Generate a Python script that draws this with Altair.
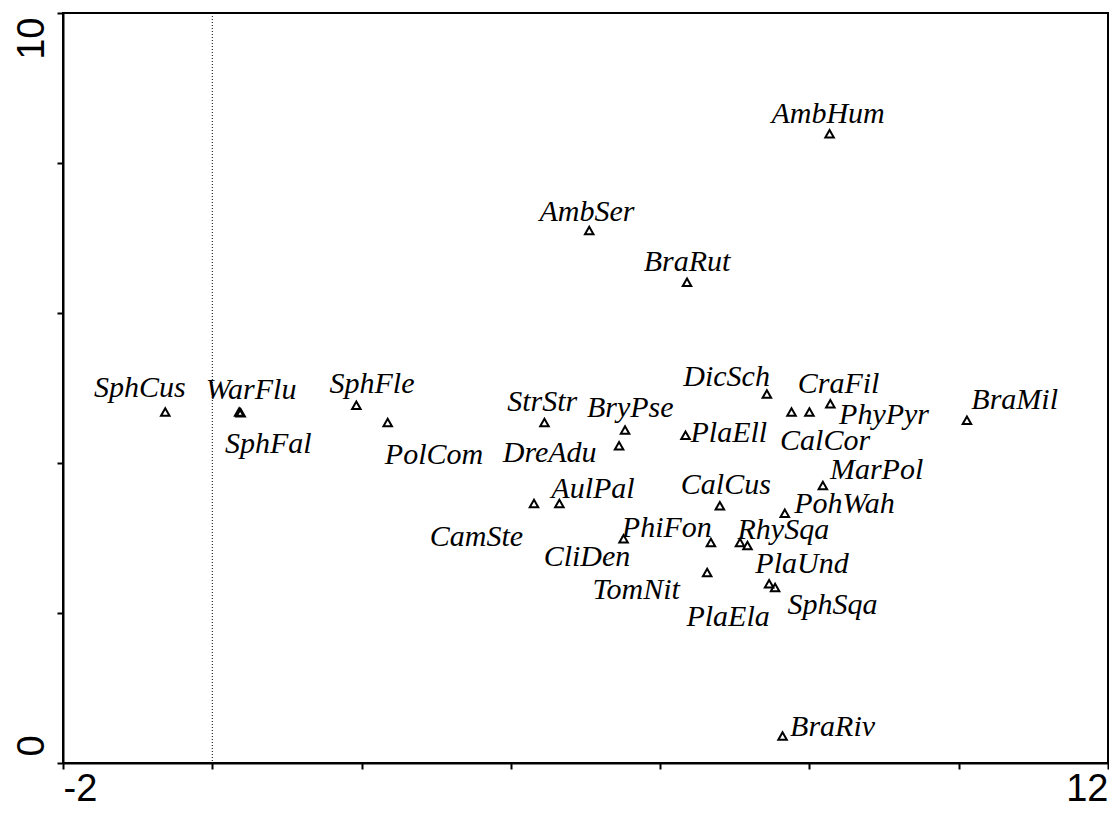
import altair as alt
import pandas as pd

species = ["SphCus", "WarFlu", "SphFal", "SphFle", "PolCom", "StrStr", "BryPse",
           "DreAdu", "CamSte", "AulPal", "PhiFon", "CliDen", "RhySqa", "PlaUnd",
           "TomNit", "PlaEla", "SphSqa", "CalCus", "PohWah", "MarPol", "PlaEll",
           "DicSch", "CalCor", "CraFil", "PhyPyr", "BraMil", "AmbHum", "AmbSer",
           "BraRut", "BraRiv"]

# species scores (axis 1, axis 2)
axis1 = [-0.63, 0.36, 0.38, 1.93, 2.35, 4.45, 5.53,
         5.45, 4.31, 4.65, 5.51, 6.68, 7.07, 7.17,
         6.63, 7.46, 7.54, 6.80, 7.67, 8.18, 6.34,
         7.43, 7.76, 8.00, 8.28, 10.11, 8.27, 5.05,
         6.36, 7.64]
axis2 = [4.68, 4.68, 4.67, 4.77, 4.54, 4.54, 4.44,
         4.23, 3.46, 3.46, 2.99, 2.94, 2.94, 2.90,
         2.54, 2.39, 2.34, 3.43, 3.33, 3.70, 4.37,
         4.92, 4.68, 4.68, 4.79, 4.57, 8.39, 7.10,
         6.41, 0.36]

# label anchor positions (centre, baseline) in axis units
label_x = [-0.97, 0.52, 0.75, 2.14, 2.97, 4.42, 5.60,
           4.52, 3.54, 5.10, 6.09, 5.02, 7.65, 7.90,
           5.68, 6.91, 8.31, 6.88, 8.47, 8.90, 6.92,
           6.89, 8.21, 8.39, 9.00, 10.75, 8.25, 5.02,
           6.36, 8.31]
label_y = [4.88, 4.85, 4.13, 4.93, 3.99, 4.70, 4.61,
           4.01, 2.90, 3.53, 3.01, 2.63, 2.99, 2.54,
           2.19, 1.83, 1.99, 3.59, 3.34, 3.79, 4.28,
           5.03, 4.17, 4.94, 4.52, 4.72, 8.54, 7.23,
           6.56, 0.36]

x_ticks = [-2, 0, 2, 4, 6, 8, 10, 12]
y_ticks = [0, 2, 4, 6, 8, 10]

df = pd.DataFrame({"species": species, "ax1": axis1, "ax2": axis2,
                   "lx": label_x, "ly": label_y})
zero_df = pd.DataFrame({"x0": [0]})

x_scale = alt.Scale(domain=[-2, 12], nice=False, zero=False)
y_scale = alt.Scale(domain=[0, 10], nice=False, zero=False)

x_axis = alt.Axis(
    values=x_ticks, title=None, grid=False,
    labelExpr="datum.value == -2 ? '-2' : (datum.value == 12 ? '12' : '')",
    labelFlush=True, labelOverlap=False, labelBaseline="alphabetic",
    labelFont="Liberation Sans", labelFontSize=38, labelColor="black",
    labelPadding=31, tickSize=6, tickWidth=2, tickColor="black",
    domainColor="black", domainWidth=2,
)
y_axis = alt.Axis(
    values=y_ticks, title=None, grid=False,
    labelExpr="datum.value == 0 ? '0' : (datum.value == 10 ? '10' : '')",
    labelAngle=270,
    labelAlign={"condition": {"test": "datum.value == 0", "value": "left"}, "value": "right"},
    labelOffset={"condition": {"test": "datum.value == 0", "value": -7}, "value": 4},
    labelBaseline="alphabetic", labelOverlap=False, labelFlush=False,
    labelFont="Liberation Sans", labelFontSize=38, labelColor="black",
    labelPadding=14, tickSize=6, tickWidth=2, tickColor="black",
    domainColor="black", domainWidth=2,
)

rule = alt.Chart(zero_df).mark_rule(color="black", strokeWidth=1, strokeDash=[1, 2]).encode(
    x=alt.X("x0:Q", scale=x_scale, axis=x_axis)
)

points = alt.Chart(df).mark_point(
    shape="triangle-up", filled=False, size=72, strokeWidth=2, color="black", opacity=1
).encode(
    x=alt.X("ax1:Q", scale=x_scale, axis=x_axis),
    y=alt.Y("ax2:Q", scale=y_scale, axis=y_axis),
)

labels = alt.Chart(df).mark_text(
    font="Liberation Serif", fontStyle="italic", fontSize=30,
    align="center", baseline="alphabetic", color="black"
).encode(
    x=alt.X("lx:Q", scale=x_scale, axis=x_axis),
    y=alt.Y("ly:Q", scale=y_scale, axis=y_axis),
    text="species:N",
)

chart = alt.layer(rule, points, labels).properties(
    width=1045, height=750,
    autosize=alt.AutoSizeParams(type="none"),
    padding={"left": 55, "top": 5, "right": 1, "bottom": 44},
    background="white",
).configure_view(stroke="black", strokeWidth=2)

chart.save("out.html", embed_options={"renderer": "svg", "actions": False})
